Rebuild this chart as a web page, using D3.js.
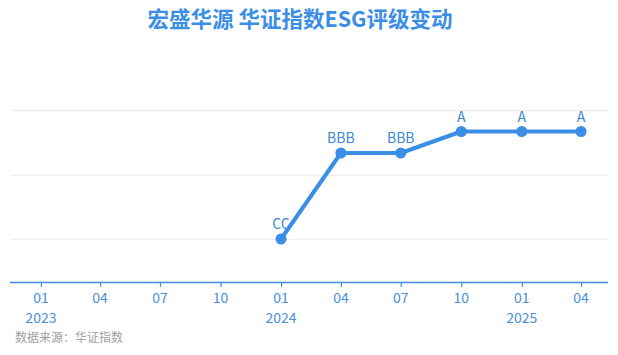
<!DOCTYPE html>
<html><head><meta charset="utf-8">
<script src="https://cdn.jsdelivr.net/npm/d3@7"></script>
<style>body{margin:0;background:#fff}svg{display:block}</style>
</head><body>
<svg id="c" width="618" height="355"></svg>
<script>
const title = "宏盛华源 华证指数ESG评级变动";
const source = "数据来源：华证指数";
const dates = ["2024-01-01","2024-04-01","2024-07-01","2024-10-01","2025-01-01","2025-04-01"];
const ratings = ["CC","BBB","BBB","A","A","A"];
const ratingScale = ["C","CC","CCC","B","BB","BBB","A","AA","AAA"];
const gridValues = [2,5,8];
const tickDates = ["2023-01-01","2023-04-01","2023-07-01","2023-10-01","2024-01-01","2024-04-01","2024-07-01","2024-10-01","2025-01-01","2025-04-01"];

const parse = d3.timeParse("%Y-%m-%d");
const svg = d3.select("#c");
const blue = "#3a8ee6";
const left = 10, right = 608, bottom = 282;

const x = d3.scaleTime().domain([parse("2022-11-15"), parse("2025-05-12")]).range([left, right]);
const y = d3.scaleLinear().domain([0, 9]).range([bottom, 88.5]);
const val = r => ratingScale.indexOf(r) + 1;

svg.append("text").attr("x", 300).attr("y", 27).attr("text-anchor","middle")
  .attr("font-family","'Microsoft YaHei','Noto Sans CJK SC',sans-serif")
  .attr("font-size",21.5).attr("font-weight","bold").attr("fill",blue).text(title);

svg.append("g").selectAll("line").data(gridValues).join("line")
  .attr("x1", left+1).attr("x2", right).attr("y1", d=>Math.round(y(d))+0.5).attr("y2", d=>Math.round(y(d))+0.5)
  .attr("stroke","#eeeeee").attr("stroke-width",1.5);

const xAxis = d3.axisBottom(x).tickValues(tickDates.map(parse)).tickSize(5).tickFormat("");
const ag = svg.append("g").attr("transform",`translate(0,${bottom})`).call(xAxis);
ag.select(".domain").attr("stroke",blue).attr("stroke-width",1.5).attr("d",`M${left},0.5H${right}`);
ag.selectAll(".tick line").attr("stroke",blue).attr("stroke-width",1.2);

const lab = svg.append("g").attr("font-family","'Microsoft YaHei','Noto Sans CJK SC',sans-serif")
  .attr("font-size",14).attr("fill","#4a8fd8").attr("text-anchor","middle");
tickDates.map(parse).forEach(d=>{
  lab.append("text").attr("x",x(d)).attr("y",303).text(d3.timeFormat("%m")(d));
  if (d.getMonth()===0) lab.append("text").attr("x",x(d)).attr("y",323).text(d3.timeFormat("%Y")(d));
});

const data = dates.map((d,i)=>({date:parse(d), r:ratings[i]}));
svg.append("path").datum(data)
  .attr("d", d3.line().x(d=>x(d.date)).y(d=>y(val(d.r))))
  .attr("fill","none").attr("stroke",blue).attr("stroke-width",4).attr("stroke-linejoin","round");
svg.append("g").selectAll("circle").data(data).join("circle")
  .attr("cx",d=>x(d.date)).attr("cy",d=>y(val(d.r))).attr("r",5.5).attr("fill",blue);
svg.append("g").selectAll("text").data(data).join("text")
  .attr("x",d=>x(d.date)).attr("y",d=>y(val(d.r))-10).attr("text-anchor","middle")
  .attr("font-family","'Microsoft YaHei','Noto Sans CJK SC',sans-serif")
  .attr("font-size",14).attr("fill","#3c87d6").text(d=>d.r);

svg.append("text").attr("x",15).attr("y",342)
  .attr("font-family","'Microsoft YaHei','Noto Sans CJK SC',sans-serif")
  .attr("font-size",12).attr("fill","#a0a0a0").text(source);
</script>
</body></html>
